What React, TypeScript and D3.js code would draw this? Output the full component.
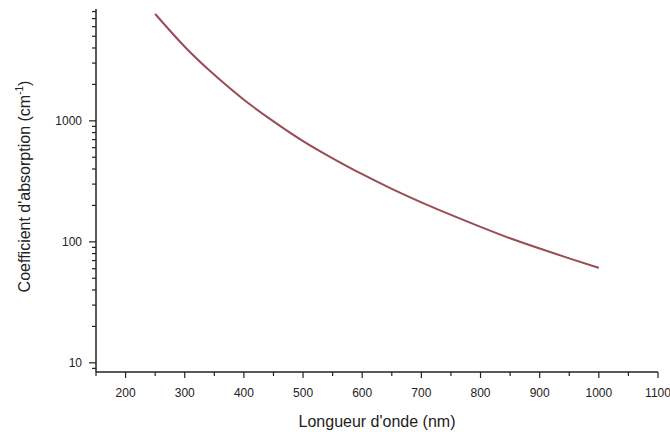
import React from 'react';
import * as d3 from 'd3';

// wavelength (nm) and absorption coefficient (cm-1)
const wavelengths = [250, 300, 350, 400, 450, 500, 550, 600, 650, 700, 750, 800, 850, 900, 950, 1000];
const absorption = [7650, 4100, 2400, 1495, 990, 680, 490, 362, 274, 212, 167, 133, 107, 88, 73, 61];

const xTicks = [200, 300, 400, 500, 600, 700, 800, 900, 1000, 1100];
const xMinorTicks = [150, 250, 350, 450, 550, 650, 750, 850, 950, 1050];
const yTicks = [10, 100, 1000];

const width = 670;
const height = 432;
const left = 96, right = 658, top = 9, bottom = 372;

export default function App() {
  const x = d3.scaleLinear().domain([150, 1100]).range([left, right]);
  const y = d3.scaleLog().domain([8.4, 8400]).range([bottom, top]);

  // minor log ticks 2..9 per decade inside the domain
  const yMinor: number[] = [];
  [1, 10, 100, 1000].forEach(d => {
    for (let k = 2; k <= 9; k++) {
      const v = d * k;
      if (v >= 8.4 && v <= 8400) yMinor.push(v);
    }
  });

  const data = wavelengths.map((w, i) => [w, absorption[i]] as [number, number]);
  const line = d3.line<[number, number]>()
    .x(d => x(d[0]))
    .y(d => y(d[1]))
    .curve(d3.curveNatural);

  const font = "'Liberation Sans', Arial, Helvetica, sans-serif";

  return (
    <svg width={width} height={height} style={{position: 'absolute', left: 0, top: 0, background: '#fff'}}>
      <g fontFamily={font} fill="#222">
        {/* curve */}
        <path d={line(data) || ''} fill="none" stroke="#9a4c56" strokeWidth={2} />

        {/* axes lines */}
        <line x1={left} x2={left} y1={top} y2={bottom} stroke="#222" strokeWidth={1.5} />
        <line x1={left} x2={right} y1={bottom} y2={bottom} stroke="#222" strokeWidth={1.5} />

        {/* x ticks */}
        {xTicks.map(t => (
          <g key={'x' + t}>
            <line x1={x(t)} x2={x(t)} y1={bottom} y2={bottom + 6} stroke="#222" strokeWidth={1.2} />
            <text x={x(t)} y={bottom + 25} textAnchor="middle" fontSize={12}>{t}</text>
          </g>
        ))}
        {xMinorTicks.map(t => (
          <line key={'xm' + t} x1={x(t)} x2={x(t)} y1={bottom} y2={bottom + 4} stroke="#222" strokeWidth={1.2} />
        ))}

        {/* y ticks */}
        {yTicks.map(t => (
          <g key={'y' + t}>
            <line x1={left - 7} x2={left} y1={y(t)} y2={y(t)} stroke="#222" strokeWidth={1.2} />
            <text x={left - 14} y={y(t) + 4} textAnchor="end" fontSize={12}>{t}</text>
          </g>
        ))}
        {yMinor.map(t => (
          <line key={'ym' + t} x1={left - 4} x2={left} y1={y(t)} y2={y(t)} stroke="#222" strokeWidth={1.2} />
        ))}

        {/* axis titles */}
        <text x={(left + right) / 2} y={427} textAnchor="middle" fontSize={16}>Longueur d'onde (nm)</text>
        <text transform={`translate(30,${(top + bottom) / 2 - 4}) rotate(-90)`} textAnchor="middle" fontSize={16}>
          Coefficient d'absorption (cm<tspan fontSize={10} dy={-7}>-1</tspan><tspan dy={7}>)</tspan>
        </text>
      </g>
    </svg>
  );
}
